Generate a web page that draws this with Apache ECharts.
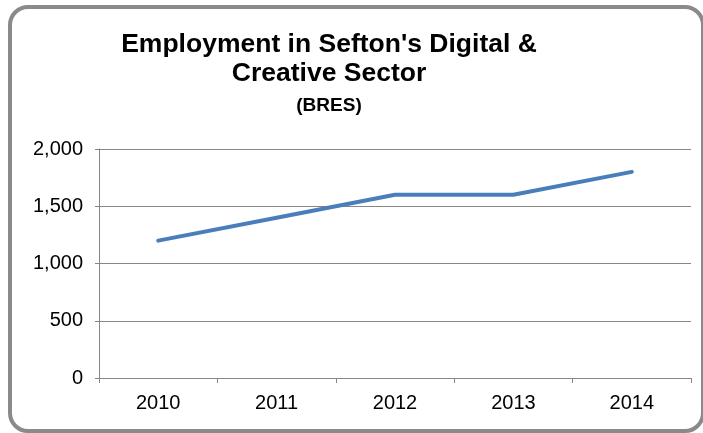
<!DOCTYPE html>
<html>
<head>
<meta charset="utf-8">
<script src="https://cdn.jsdelivr.net/npm/echarts@6/dist/echarts.min.js"></script>
<style>
  html, body { margin: 0; padding: 0; background: #ffffff; }
  #frame {
    position: absolute; left: 8px; top: 5px; width: 689px; height: 420px;
    border: 4px solid #8a8a8a; border-radius: 20px; box-sizing: content-box;
  }
  #chart { position: absolute; left: 0; top: 0; width: 703px; height: 433px; }
</style>
</head>
<body>
<div id="frame"></div>
<div id="chart"></div>
<script>
// Employment counts by year (BRES)
const years = ['2010', '2011', '2012', '2013', '2014'];
const employment = [1200, 1400, 1600, 1600, 1800];
const yTicks = [0, 500, 1000, 1500, 2000];

const chart = echarts.init(document.getElementById('chart'), null, { renderer: 'canvas' });
const font = '"Liberation Sans", Arial, sans-serif';

chart.setOption({
  animation: false,
  backgroundColor: 'transparent',
  title: [{
    text: "Employment in Sefton's Digital &\nCreative Sector",
    left: 329,
    top: 30,
    textAlign: 'center',
    padding: 0,
    textStyle: { fontFamily: font, fontWeight: 'bold', fontSize: 26.5, color: '#000', lineHeight: 29 }
  }, {
    text: '(BRES)',
    left: 329,
    top: 96,
    textAlign: 'center',
    padding: 0,
    textStyle: { fontFamily: font, fontWeight: 'bold', fontSize: 19, color: '#000' }
  }],
  grid: { left: 99, right: 12, top: 149, bottom: 55, containLabel: false },
  xAxis: {
    type: 'category',
    data: years,
    boundaryGap: true,
    axisLine: { lineStyle: { color: '#868686', width: 1 } },
    axisTick: { show: true, length: 5, lineStyle: { color: '#868686' } },
    axisLabel: { fontFamily: font, fontSize: 20, color: '#000', margin: 15 }
  },
  yAxis: {
    type: 'value',
    min: yTicks[0],
    max: yTicks[yTicks.length - 1],
    interval: 500,
    axisLine: { show: true, lineStyle: { color: '#868686', width: 1 } },
    axisTick: { show: true, length: 4, lineStyle: { color: '#868686' } },
    splitLine: { lineStyle: { color: '#868686', width: 1 } },
    axisLabel: {
      fontFamily: font, fontSize: 20, color: '#000', margin: 16,
      formatter: v => v.toLocaleString('en-US')
    }
  },
  series: [{
    type: 'line',
    data: employment,
    symbol: 'none',
    lineStyle: { color: '#4a7ebb', width: 4, cap: 'round', join: 'round' }
  }]
});
</script>
</body>
</html>
